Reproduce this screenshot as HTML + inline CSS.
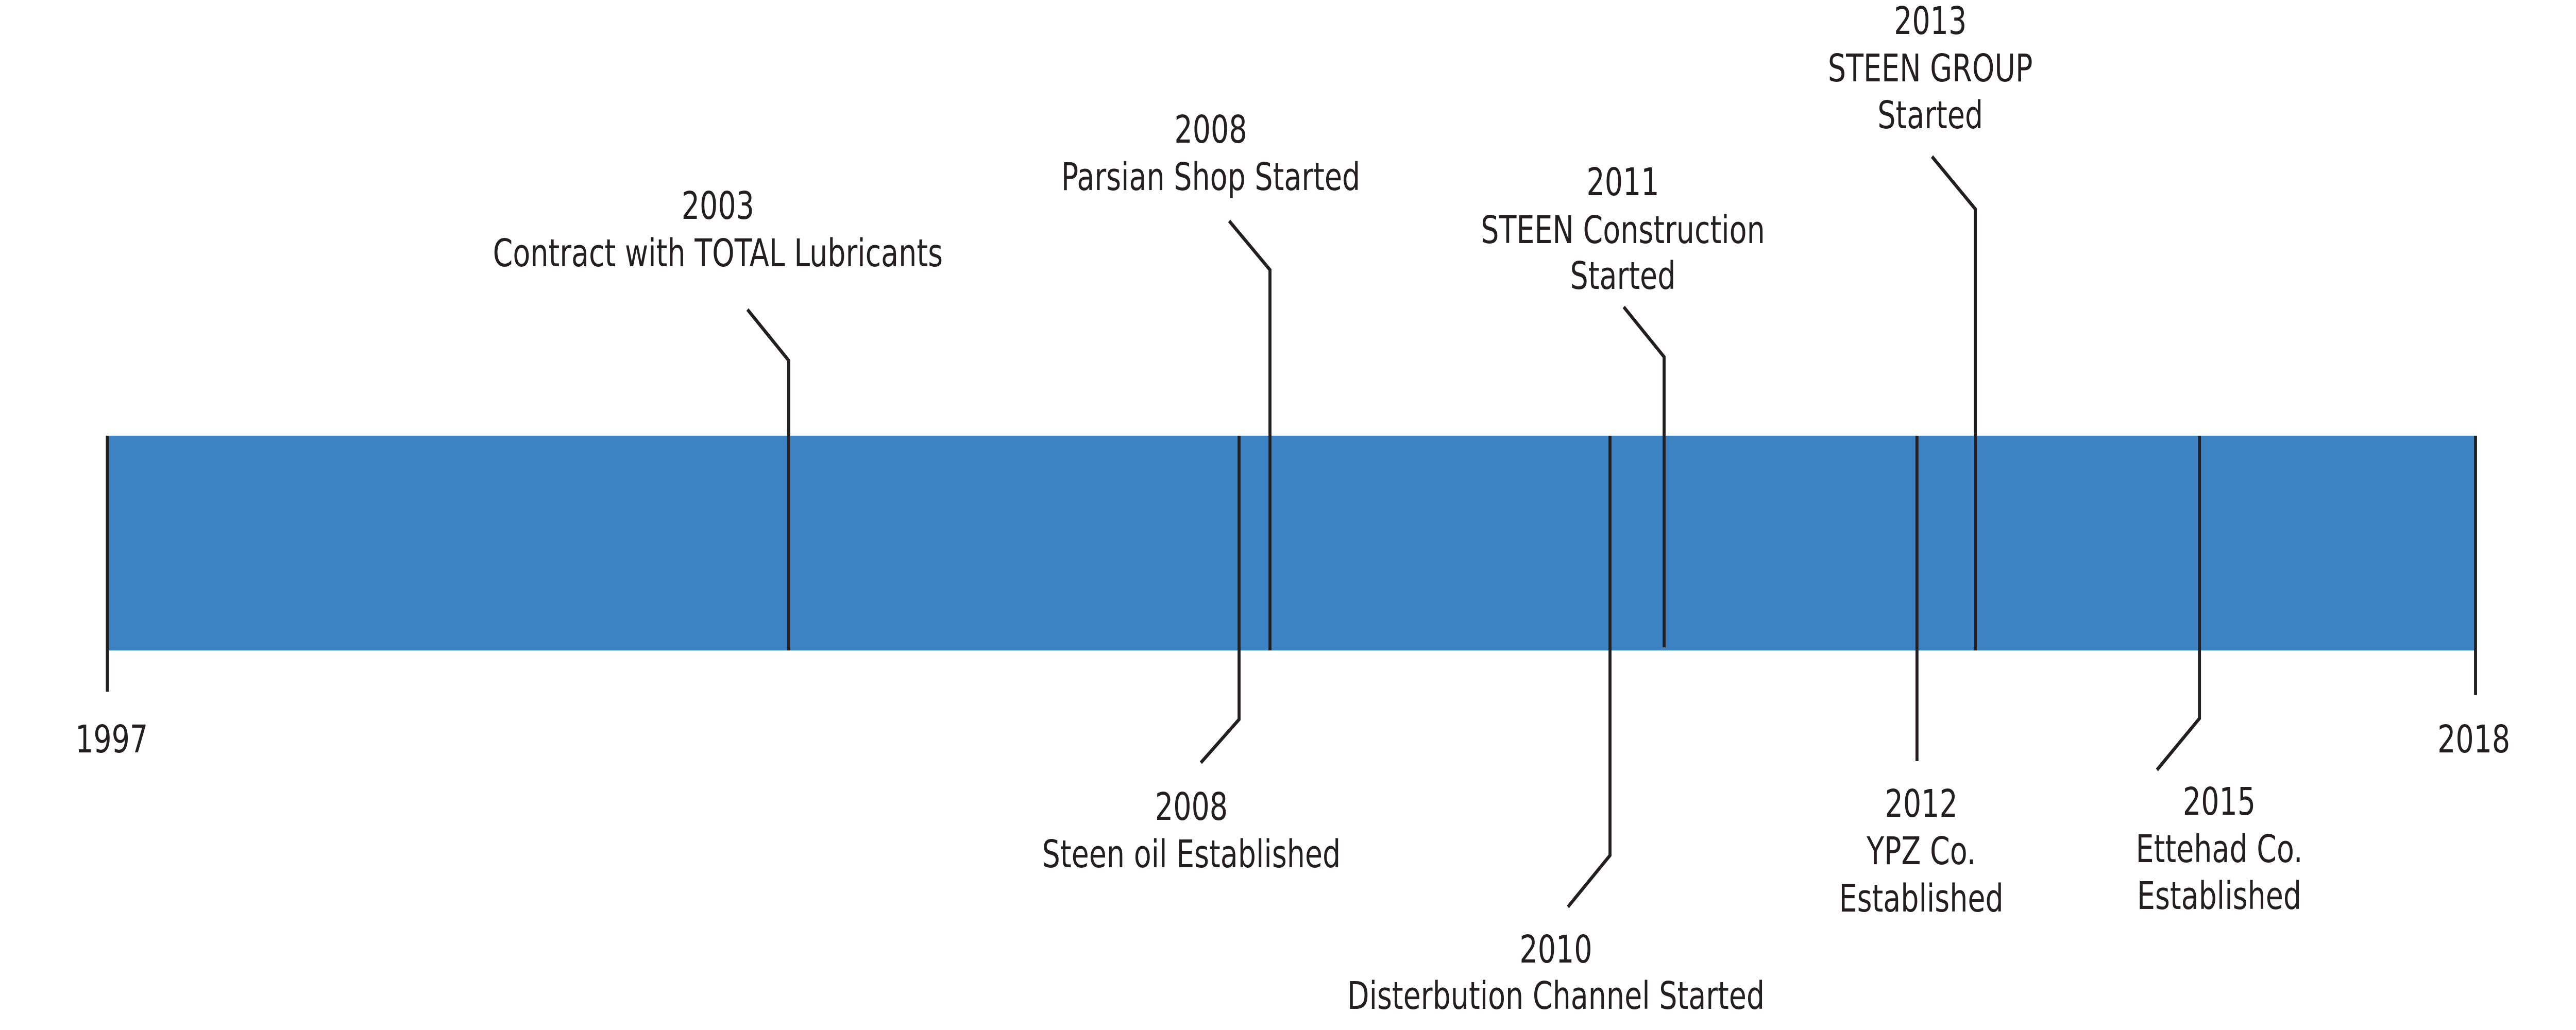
<!DOCTYPE html>
<html><head><meta charset="utf-8"><style>
html,body{margin:0;padding:0;background:#fff;overflow:hidden;width:100%;height:100%;}
svg{display:block;position:absolute;left:0;top:0;width:100vw;height:100vh;}
text{font-family:"DejaVu Sans Condensed","Liberation Sans Narrow","Liberation Sans",sans-serif;font-size:74px;fill:#231f20;text-anchor:middle;}
</style></head><body>
<svg viewBox="0 0 6000 2000" preserveAspectRatio="none" xmlns="http://www.w3.org/2000/svg">
<rect x="250" y="846" width="5516" height="417" fill="#3e83c4"/>
<g stroke="#231f20" stroke-width="7" fill="none">
<polyline points="250,846 250,1343"/>
<polyline points="5766,846 5766,1349"/>
<polyline points="1837,1263 1837,700 1741,601"/>
<polyline points="2958,1263 2958,524 2863,429"/>
<polyline points="2886,846 2886,1397 2797,1481"/>
<polyline points="3750,846 3750,1661 3652,1761"/>
<polyline points="3876,1257 3876,693 3782,596"/>
<polyline points="4465,846 4465,1478"/>
<polyline points="4601,1263 4601,406 4500,304"/>
<polyline points="5123,846 5123,1395 5024,1495"/>
</g>
<text x="260" y="1461">1997</text>
<text x="5762" y="1461">2018</text>
<text x="1672" y="425">2003</text>
<text x="1672" y="517">Contract with TOTAL Lubricants</text>
<text x="2820" y="277">2008</text>
<text x="2820" y="369">Parsian Shop Started</text>
<text x="2775" y="1592">2008</text>
<text x="2775" y="1684">Steen oil Established</text>
<text x="3624" y="1869">2010</text>
<text x="3624" y="1959">Disterbution Channel Started</text>
<text x="3780" y="379">2011</text>
<text x="3780" y="472">STEEN Construction</text>
<text x="3780" y="561">Started</text>
<text x="4475" y="1586">2012</text>
<text x="4475" y="1678">YPZ Co.</text>
<text x="4475" y="1770">Established</text>
<text x="4496" y="66">2013</text>
<text x="4496" y="158">STEEN GROUP</text>
<text x="4496" y="249">Started</text>
<text x="5169" y="1582">2015</text>
<text x="5169" y="1674">Ettehad Co.</text>
<text x="5169" y="1765">Established</text>
</svg>
</body></html>
